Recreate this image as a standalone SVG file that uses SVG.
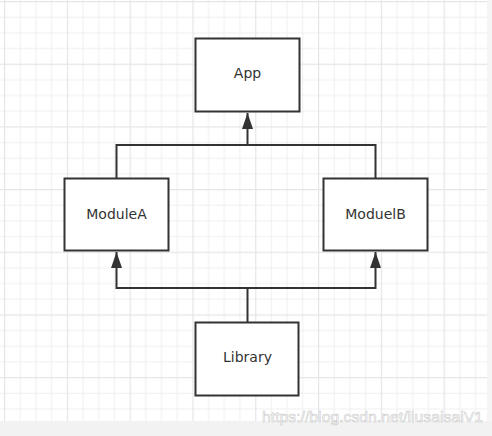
<svg xmlns="http://www.w3.org/2000/svg" width="492" height="436" viewBox="0 0 492 436">
  <style>
    .box { fill: #ffffff; stroke: #333333; stroke-width: 2; }
    .lbl { font-family: "DejaVu Sans", "Liberation Sans", sans-serif; font-size: 14px; fill: #333333; text-anchor: middle; }
    .conn { fill: none; stroke: #333333; stroke-width: 2; }
    .minor { stroke: #efefef; stroke-width: 1; }
    .major { stroke: #e5e5e5; stroke-width: 1.4; }
  </style>
  <defs>
    <pattern id="grid" patternUnits="userSpaceOnUse" x="4" y="1" width="62.8" height="62.68">
      <path class="minor" d="M16.2,0 V62.68 M31.9,0 V62.68 M47.6,0 V62.68 M0,16.17 H62.8 M0,31.84 H62.8 M0,47.51 H62.8"/>
      <path class="major" d="M0.5,0 V62.68 M0,0.5 H62.8"/>
    </pattern>
    <marker id="arrow" markerUnits="userSpaceOnUse" markerWidth="16" markerHeight="12" viewBox="0 -6 16 12" refX="16" refY="0" orient="auto">
      <path d="M0,-5.5 L16,0 L0,5.5 Z" fill="#333333"/>
    </marker>
  </defs>

  <rect x="0" y="0" width="492" height="436" fill="#ffffff"/>
  <rect x="0" y="0" width="487" height="421" fill="url(#grid)"/>
  <rect x="487" y="0" width="5" height="421" fill="#f5f5f5"/>
  <rect x="0" y="421" width="492" height="15" fill="#f2f2f2"/>

  <g id="connectors">
    <path class="conn" d="M116.5,178 V145 H375.5 V178"/>
    <path class="conn" d="M247.5,145 V113" marker-end="url(#arrow)"/>
    <path class="conn" d="M247.5,322 V288 H116.5 V252" marker-end="url(#arrow)"/>
    <path class="conn" d="M247.5,288 H375.5 V252" marker-end="url(#arrow)"/>
  </g>

  <g id="app">
    <rect class="box" x="195.5" y="38.5" width="104" height="73"/>
    <text class="lbl" x="247.5" y="78">App</text>
  </g>
  <g id="moduleA">
    <rect class="box" x="64.5" y="178.5" width="104" height="72"/>
    <text class="lbl" x="116.5" y="219">ModuleA</text>
  </g>
  <g id="moduelB">
    <rect class="box" x="323.5" y="178.5" width="104" height="72"/>
    <text class="lbl" x="375.5" y="219">ModuelB</text>
  </g>
  <g id="library">
    <rect class="box" x="195.5" y="322.5" width="103" height="73"/>
    <text class="lbl" x="247.5" y="362">Library</text>
  </g>

  <text x="262" y="422" font-family="Liberation Sans, Arial, sans-serif" font-size="15.5" textLength="221" lengthAdjust="spacingAndGlyphs" fill="#ffffff" stroke="#cccccc" stroke-width="0.6">https://blog.csdn.net/liusaisaiV1</text>
</svg>
